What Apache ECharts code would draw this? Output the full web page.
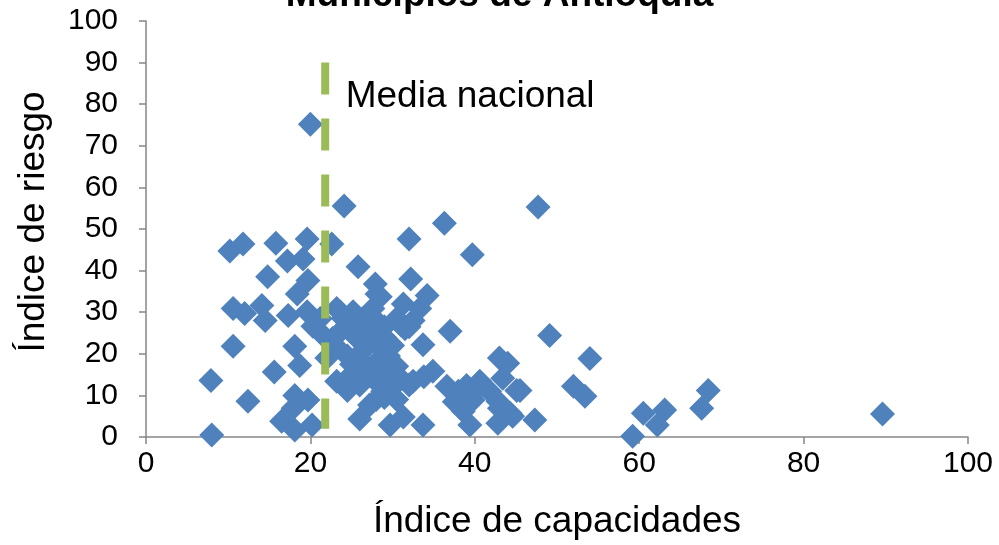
<!DOCTYPE html>
<html lang="es">

<head>
  <meta charset="UTF-8">
  <title>Municipios de Antioquia</title>
  <script src="https://cdn.jsdelivr.net/npm/echarts@6/dist/echarts.min.js"></script>
  <style>
    html,
    body {
      height: 100%;
      margin: 0;
      padding: 0;
      background-color: #ffffff;
    }

    #chart {
      width: 999px;
      height: 545px;
    }
  </style>
</head>

<body>
  <div id="chart"></div>
  <script>
    // municipios: índice de capacidades (x) e índice de riesgo (y)
    const indiceCapacidades = [
      7.9, 8, 10.2, 11.8, 10.6, 12, 10.6, 12.4, 14.1, 14.5, 14.8, 15.6, 15.8, 17.2, 19.1, 19.6, 19.7, 18.4,
      17.3, 19.6, 21.2, 20.3, 18.1, 18.7, 18.1, 19.7, 17.9, 16.5, 18.1, 20.2, 20, 22.6, 22.7, 23.2, 24.1,
      25.8, 27.9, 28.1, 25.2, 26.4, 27.6, 25.7, 23.2, 24.5, 26.4, 28.5, 27.6, 28.8, 27.2, 26, 32, 36.3,
      39.7, 32.2, 34.2, 37, 33.7, 29.7, 31.3, 33.7, 28.5, 31.3, 33.3, 30.5, 23.6,
      24, 25.5, 26, 27, 27.5, 28, 28.5, 29, 29.5, 30, 30.5, 31, 32.5, 31, 30, 29, 28, 27, 25, 24.5, 29,
      30.5, 32, 25, 22, 23, 21.5, 29.5, 26, 31.5, 24, 29, 32,
      32.5, 34.9, 33.8, 36.6, 39, 40.6, 39.8, 43.4, 45.5, 43, 38.6, 38, 41.8, 39.4, 42.8, 44.6, 47.3, 43,
      44, 45.1, 47.7, 49.1, 54, 52, 53.4, 59.2, 60.5, 63.1, 62.2, 68.4, 67.6, 89.6, 40.3, 37.5, 42.8, 44.3
    ];
    const indiceRiesgo = [
      13.6, 0.5, 44.7, 46.4, 30.9, 29.7, 21.8, 8.6, 31.6, 28, 38.5, 15.6, 46.6, 42.3, 42.8, 47.6, 37.6, 34.4,
      29.2, 30.1, 28.5, 26.6, 21.8, 17.2, 10, 8.9, 6.9, 3.8, 1.7, 2.9, 75.2, 46.4, 23.7, 30.9, 55.5,
      40.9, 36.8, 34.4, 30.1, 28.5, 30.9, 23.7, 13.4, 11.2, 17.2, 18.9, 14.1, 11, 7.7, 4.3, 47.6, 51.4,
      43.8, 38, 34, 25.4, 22.2, 2.9, 4.8, 2.9, 33.7, 32, 30.9, 28.5, 30.1,
      26, 27, 20, 22, 25, 28, 21.5, 24, 19.5, 22, 17, 27, 28, 14, 12, 9.5, 9, 16.5, 17.5, 19.5, 13,
      9, 12.5, 15, 19, 22, 24.5, 15.5, 12.5, 26, 28.5, 26.5, 26.5,
      13.4, 15.8, 14.5, 12.2, 12.4, 13.4, 8.9, 14.1, 11.2, 6.9, 6.2, 11, 11, 2.9, 3.3, 5, 4.1, 19,
      17.7, 11.2, 55.3, 24.4, 18.9, 12.2, 9.8, 0.2, 5.7, 6.5, 2.9, 11.2, 6.9, 5.5, 11.5, 8.5, 8.6, 5.7
    ];
    const mediaNacional = 21.8;
    const mediaTramo = [90, 2];

    const puntos = indiceCapacidades.map((x, i) => [x, indiceRiesgo[i]]);

    const chart = echarts.init(document.getElementById('chart'));
    const gris = '#868686';
    const font = 'Arial, "Liberation Sans", sans-serif';

    const option = {
      animation: false,
      title: {
        text: 'Municipios de Antioquia',
        left: 'center',
        top: -28,
        textStyle: { fontFamily: font, fontSize: 37, fontWeight: 'bold', color: '#000' }
      },
      grid: { left: 146, right: 31, top: 21, bottom: 106 },
      xAxis: {
        type: 'value',
        min: 0,
        max: 100,
        interval: 20,
        name: 'Índice de capacidades',
        nameLocation: 'middle',
        nameGap: 66,
        nameTextStyle: { fontFamily: font, fontSize: 37, color: '#000' },
        axisLine: { lineStyle: { color: gris, width: 1.5 } },
        axisTick: { show: true, length: 7, lineStyle: { color: gris, width: 1.5 } },
        axisLabel: { fontFamily: font, fontSize: 30, color: '#000', margin: 12 },
        splitLine: { show: false }
      },
      yAxis: {
        type: 'value',
        min: 0,
        max: 100,
        interval: 10,
        axisLine: { show: true, lineStyle: { color: gris, width: 1.5 } },
        axisTick: { show: true, length: 7, lineStyle: { color: gris, width: 1.5 } },
        axisLabel: { fontFamily: font, fontSize: 30, color: '#000', margin: 28 },
        splitLine: { show: false }
      },
      graphic: [{
        type: 'text',
        x: 34,
        y: 222,
        rotation: Math.PI / 2,
        style: {
          text: 'Índice de riesgo',
          fontFamily: font,
          fontSize: 37,
          fill: '#000',
          align: 'center',
          verticalAlign: 'middle'
        }
      }],
      series: [{
        type: 'scatter',
        symbol: 'diamond',
        symbolSize: 25,
        itemStyle: { color: '#4f81bd', opacity: 1 },
        data: puntos,
        z: 2
      }, {
        type: 'line',
        data: mediaTramo.map(y => [mediaNacional, y]),
        symbol: 'none',
        lineStyle: { color: '#9bbb59', width: 8, type: [32, 24], cap: 'butt' },
        z: 3,
        silent: true
      }, {
        type: 'scatter',
        data: [[mediaNacional, 90]],
        symbolSize: 1,
        itemStyle: { opacity: 0 },
        silent: true,
        label: {
          show: true,
          formatter: 'Media nacional',
          position: 'right',
          offset: [15, 34],
          fontFamily: font,
          fontSize: 37,
          color: '#000',
          opacity: 1
        },
        z: 4
      }]
    };
    chart.setOption(option);
  </script>
</body>

</html>
